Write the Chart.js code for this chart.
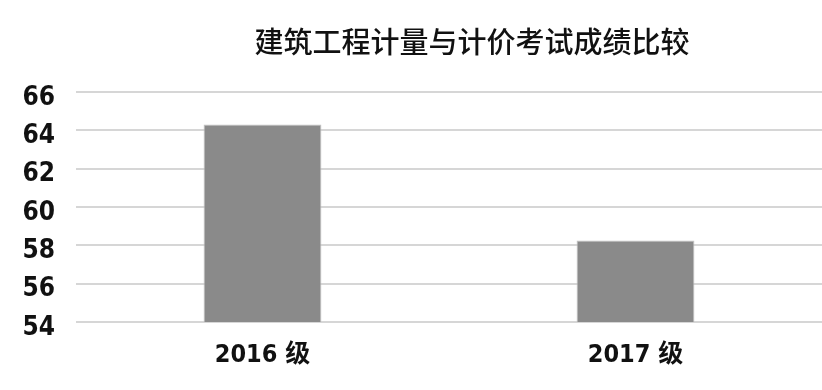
<!DOCTYPE html>
<html>
<head>
<meta charset="utf-8">
<script src="https://cdn.jsdelivr.net/npm/chart.js@4.4.0/dist/chart.umd.min.js"></script>
<style>
  html, body { margin: 0; padding: 0; background: #fff; }
  #wrap { position: relative; width: 822px; height: 390px; }
  #title {
    position: absolute; left: 248px; top: 22px; width: 448px;
    text-align: center; white-space: nowrap;
    font-family: "Noto Sans CJK SC", sans-serif; font-weight: 500;
    font-size: 29px; line-height: 36px; color: #111;
  }
</style>
</head>
<body>
<div id="wrap">
  <div id="title">建筑工程计量与计价考试成绩比较</div>
  <canvas id="chart" width="822" height="390"></canvas>
</div>
<script>
// categories and scores
const grades = ['2016 级', '2017 级'];
const scores = [64.3, 58.25];
const yMin = 54, yMax = 66, yStep = 2;

const numFont = '"Liberation Sans Narrow", "DejaVu Sans Condensed", "Noto Sans CJK SC"';

new Chart('chart', {
    type: 'bar',
    data: {
        labels: grades,
        datasets: [{
            data: scores,
            backgroundColor: '#8a8a8a',
            borderColor: '#c4c4c4',
            borderWidth: 1,
            categoryPercentage: 1,
            barPercentage: 0.316
        }]
    },
    options: {
        responsive: false,
        animation: false,
        layout: { padding: { top: 92, right: 0, bottom: 0, left: 0 } },
        plugins: {
            legend: { display: false },
            tooltip: { enabled: false }
        },
        scales: {
            x: {
                grid: { display: false, drawTicks: false },
                border: { display: false },
                ticks: {
                    color: '#111',
                    padding: 18,
                    font: { family: numFont, size: 25, weight: 'bold' }
                },
                afterFit: s => { s.height = 68; }
            },
            y: {
                min: yMin, max: yMax,
                grid: { color: '#d6d6d6', lineWidth: 2, drawTicks: false },
                border: { display: false },
                ticks: {
                    stepSize: yStep,
                    color: '#111',
                    padding: 21,
                    labelOffset: 6,
                    font: { family: numFont, size: 26, weight: 'bold' }
                },
                afterFit: s => { s.width = 76; }
            }
        }
    }
});
</script>
</body>
</html>
